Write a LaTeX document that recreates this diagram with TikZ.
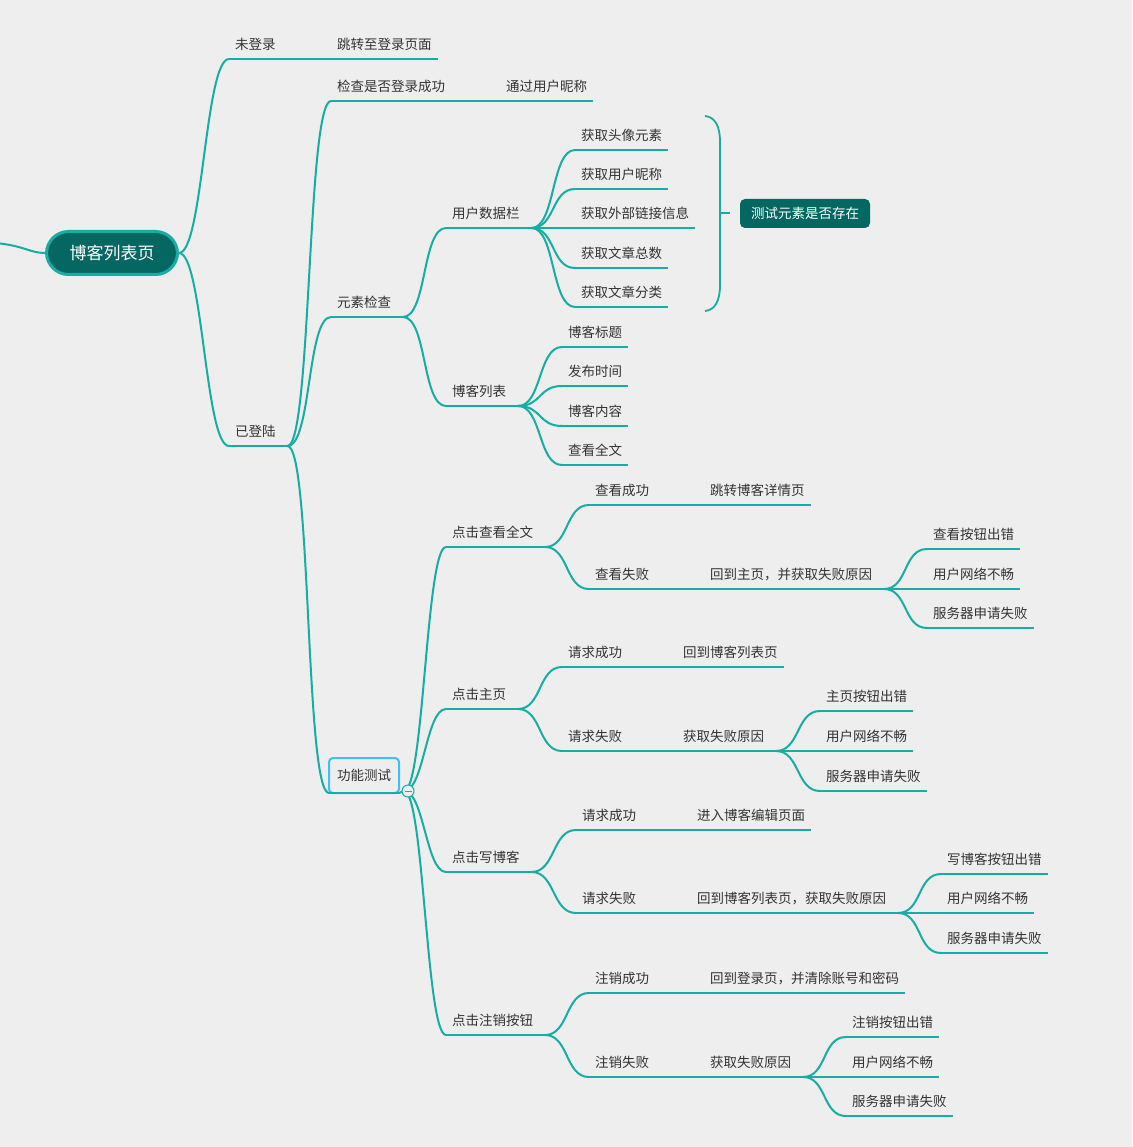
\documentclass[tikz,border=0pt]{standalone}
\usepackage{fontspec}
\newfontfamily\cjk{Noto Sans CJK SC}
\definecolor{bgc}{RGB}{238,238,238}
\definecolor{teal1}{RGB}{22,173,164}
\definecolor{deep}{RGB}{5,103,98}
\definecolor{txt}{RGB}{51,51,51}
\definecolor{selb}{RGB}{64,192,242}

\begin{document}
\begin{tikzpicture}[x=1pt,y=-1pt,
  link/.style={draw=teal1, line width=2pt},
  topic/.style={anchor=south west, inner xsep=6pt, inner ysep=0pt, outer sep=0pt,
    text height=10pt, text depth=9.5pt, text=txt, font=\cjk\fontsize{13.5}{16}\selectfont},
  hub/.style={topic, execute at end node=\hspace{6pt}},
  branch/.style={to path={.. controls +(#1,0) and +(-#1,0) .. (\tikztotarget)}},
  branch/.default=24,
  rootbox/.style={draw=teal1, line width=3pt, fill=deep, rounded corners=22pt,
    minimum width=131pt, minimum height=43pt, text=white, font=\cjk\fontsize{17}{20}\selectfont},
  summary/.style={fill=deep, rounded corners=5pt, minimum width=130pt, minimum height=29pt,
    inner sep=0pt, text=white, font=\cjk\fontsize{13.5}{16}\selectfont},
  selbox/.style={anchor=south west, draw=selb, line width=2pt, rounded corners=4pt, outer sep=0pt,
    minimum width=70pt, minimum height=35pt, inner sep=0pt, text=txt, font=\cjk\fontsize{13.5}{16}\selectfont}]
  \fill[bgc] (0,0) rectangle (1132,1147);
  \useasboundingbox (0,0) rectangle (1132,1147);

  % centre topic
  \node[rootbox] (root) at (112,253) {博客列表页};
  \coordinate (offleft) at (-4,243);
  \draw[link] (offleft) .. controls (25,246) and (30,253) .. (root.west);

  % first and second level
  \node[topic] (weidenglu) at (229,59) {未登录};
  \node[topic] (tiaozhuan) at (331,59) {跳转至登录页面};
  \node[hub] (yidenglu) at (229,446) {已登陆};
  \node[topic] (jiancha) at (331,101) {检查是否登录成功};
  \node[topic] (tongguo) at (500,101) {通过用户昵称};
  \node[hub] (yuansu) at (331,317) {元素检查};
  \node[selbox] (gongneng) at (329,793) {功能测试};

  % element check
  \node[hub] (shujulan) at (446,228) {用户数据栏};
  \node[hub] (bokelb) at (446,406) {博客列表};
  \node[topic] (touxiang) at (575,150) {获取头像元素};
  \node[topic] (nicheng) at (575,189) {获取用户昵称};
  \node[topic] (lianjie) at (575,228) {获取外部链接信息};
  \node[topic] (zongshu) at (575,268) {获取文章总数};
  \node[topic] (fenlei) at (575,307) {获取文章分类};
  \node[topic] (biaoti) at (562,347) {博客标题};
  \node[topic] (shijian) at (562,386) {发布时间};
  \node[topic] (neirong) at (562,426) {博客内容};
  \node[topic] (quanwen) at (562,465) {查看全文};

  % function test
  \node[hub] (djqw) at (446,547) {点击查看全文};
  \node[hub] (djzy) at (446,709) {点击主页};
  \node[hub] (djxbk) at (446,872) {点击写博客};
  \node[hub] (djzx) at (446,1035) {点击注销按钮};

  \node[topic] (ckcg) at (589,505) {查看成功};
  \node[topic] (tzxq) at (704,505) {跳转博客详情页};
  \node[topic] (cksb) at (589,589) {查看失败};
  \node[hub] (hdzy) at (704,589) {回到主页，并获取失败原因};
  \node[topic] (ckan) at (927,549) {查看按钮出错};
  \node[topic] (wla) at (927,589) {用户网络不畅};
  \node[topic] (fwqa) at (927,628) {服务器申请失败};

  \node[topic] (qqcga) at (562,667) {请求成功};
  \node[topic] (hdlb) at (677,667) {回到博客列表页};
  \node[topic] (qqsba) at (562,751) {请求失败};
  \node[hub] (hqyya) at (677,751) {获取失败原因};
  \node[topic] (zyan) at (820,711) {主页按钮出错};
  \node[topic] (wlb) at (820,751) {用户网络不畅};
  \node[topic] (fwqb) at (820,791) {服务器申请失败};

  \node[topic] (qqcgb) at (576,830) {请求成功};
  \node[topic] (jrbj) at (691,830) {进入博客编辑页面};
  \node[topic] (qqsbb) at (576,913) {请求失败};
  \node[hub] (hdlbyy) at (691,913) {回到博客列表页，获取失败原因};
  \node[topic] (xbkan) at (941,874) {写博客按钮出错};
  \node[topic] (wlc) at (941,913) {用户网络不畅};
  \node[topic] (fwqc) at (941,953) {服务器申请失败};

  \node[topic] (zxcg) at (589,993) {注销成功};
  \node[topic] (hddl) at (704,993) {回到登录页，并清除账号和密码};
  \node[topic] (zxsb) at (589,1077) {注销失败};
  \node[hub] (hqyyb) at (704,1077) {获取失败原因};
  \node[topic] (zxan) at (846,1037) {注销按钮出错};
  \node[topic] (wld) at (846,1077) {用户网络不畅};
  \node[topic] (fwqd) at (846,1116) {服务器申请失败};

  % underlines
  \foreach \n in {weidenglu,tiaozhuan,yidenglu,jiancha,tongguo,yuansu,gongneng,shujulan,bokelb,
      touxiang,nicheng,lianjie,zongshu,fenlei,biaoti,shijian,neirong,quanwen,djqw,djzy,djxbk,djzx,
      ckcg,tzxq,cksb,hdzy,ckan,wla,fwqa,qqcga,hdlb,qqsba,hqyya,zyan,wlb,fwqb,
      qqcgb,jrbj,qqsbb,hdlbyy,xbkan,wlc,fwqc,zxcg,hddl,zxsb,hqyyb,zxan,wld,fwqd}
    \draw[link] (\n.south west) -- (\n.south east);

  % branches
  \foreach \c in {weidenglu,yidenglu}
    \draw[link] (root.east) to[branch] (\c.south west);
  \draw[link] (weidenglu.south east) -- (tiaozhuan.south west);
  \foreach \c in {jiancha,yuansu,gongneng}
    \draw[link] (yidenglu.south east) to[branch] (\c.south west);
  \draw[link] (jiancha.south east) -- (tongguo.south west);
  \foreach \c in {shujulan,bokelb}
    \draw[link] (yuansu.south east) to[branch] (\c.south west);
  \foreach \c in {touxiang,nicheng,lianjie,zongshu,fenlei}
    \draw[link] (shujulan.south east) to[branch] (\c.south west);
  \foreach \c in {biaoti,shijian,neirong,quanwen}
    \draw[link] (bokelb.south east) to[branch] (\c.south west);

  \coordinate (fork) at (404,791);
  \draw[link] (gongneng.south east) -- (fork);
  \foreach \c in {djqw,djzy,djxbk,djzx}
    \draw[link] (fork) to[branch=20] (\c.south west);

  \foreach \c in {ckcg,cksb}
    \draw[link] (djqw.south east) to[branch] (\c.south west);
  \draw[link] (ckcg.south east) -- (tzxq.south west);
  \draw[link] (cksb.south east) -- (hdzy.south west);
  \foreach \c in {ckan,wla,fwqa}
    \draw[link] (hdzy.south east) to[branch] (\c.south west);

  \foreach \c in {qqcga,qqsba}
    \draw[link] (djzy.south east) to[branch] (\c.south west);
  \draw[link] (qqcga.south east) -- (hdlb.south west);
  \draw[link] (qqsba.south east) -- (hqyya.south west);
  \foreach \c in {zyan,wlb,fwqb}
    \draw[link] (hqyya.south east) to[branch] (\c.south west);

  \foreach \c in {qqcgb,qqsbb}
    \draw[link] (djxbk.south east) to[branch] (\c.south west);
  \draw[link] (qqcgb.south east) -- (jrbj.south west);
  \draw[link] (qqsbb.south east) -- (hdlbyy.south west);
  \foreach \c in {xbkan,wlc,fwqc}
    \draw[link] (hdlbyy.south east) to[branch] (\c.south west);

  \foreach \c in {zxcg,zxsb}
    \draw[link] (djzx.south east) to[branch] (\c.south west);
  \draw[link] (zxcg.south east) -- (hddl.south west);
  \draw[link] (zxsb.south east) -- (hqyyb.south west);
  \foreach \c in {zxan,wld,fwqd}
    \draw[link] (hqyyb.south east) to[branch] (\c.south west);

  % fold button
  \node[circle, draw=teal1, fill=bgc, line width=1pt, minimum size=12pt, inner sep=0pt,
    path picture={\draw[teal1, line width=1pt] ([xshift=-3.5pt]path picture bounding box.center)
      -- ([xshift=3.5pt]path picture bounding box.center);}] (fold) at (408,791) {};

  % summary brace
  \coordinate (bracetip) at (730,213);
  \draw[link, line width=1.8pt] (705,116) .. controls (715,117) and (720,126) .. (720,142)
    -- (720,285) .. controls (720,301) and (715,310) .. (705,311);
  \draw[link, line width=1.8pt] (720,213) -- (bracetip);
  \node[summary] (ceshi) at (805,213.5) {测试元素是否存在};
\end{tikzpicture}
\end{document}
